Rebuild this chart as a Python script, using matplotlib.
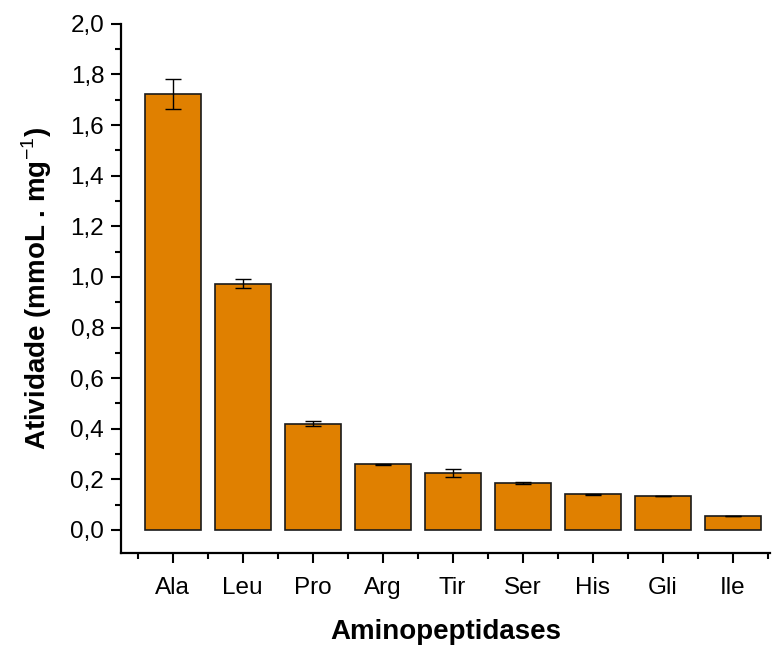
import matplotlib.pyplot as plt
from matplotlib.ticker import FixedLocator, MultipleLocator, FuncFormatter

plt.rcParams['font.family'] = ['Liberation Sans', 'DejaVu Sans']
plt.rcParams['mathtext.fontset'] = 'custom'
plt.rcParams['mathtext.rm'] = 'Liberation Sans'
plt.rcParams['mathtext.bf'] = 'Liberation Sans:bold'

# data
categories = ["Ala", "Leu", "Pro", "Arg", "Tir", "Ser", "His", "Gli", "Ile"]
activity = [1.722, 0.973, 0.420, 0.259, 0.226, 0.185, 0.141, 0.134, 0.056]
errors = [0.060, 0.018, 0.010, 0.002, 0.016, 0.004, 0.002, 0.001, 0.001]

BAR_COLOR = "#E08000"

fig = plt.figure(figsize=(7.75, 6.45), dpi=100)
ax = fig.add_axes([0.156, 0.1426, 0.838, 0.8204])

x = list(range(len(categories)))
ax.bar(x, activity, width=0.8, color=BAR_COLOR, edgecolor="#1a1a1a", linewidth=1.2,
       yerr=errors, capsize=5.5, error_kw=dict(ecolor="black", elinewidth=1.0, capthick=1.0),
       zorder=2)

ax.set_xlim(-0.74, 8.54)
ax.set_ylim(-0.091, 2.0)

for s in ["top", "right"]:
    ax.spines[s].set_visible(False)
for s in ["left", "bottom"]:
    ax.spines[s].set_linewidth(1.6)

ax.set_xticks(x)
ax.set_xticklabels(categories)
ax.xaxis.set_minor_locator(FixedLocator([i - 0.5 for i in range(len(categories) + 1)]))
ax.yaxis.set_major_locator(MultipleLocator(0.2))
ax.yaxis.set_minor_locator(MultipleLocator(0.1))
ax.yaxis.set_major_formatter(FuncFormatter(lambda v, p: f"{v:.1f}".replace(".", ",")))

ax.tick_params(which="major", direction="out", length=7, width=1.5, labelsize=17.5)
ax.tick_params(which="minor", direction="out", length=4, width=1.5)
ax.tick_params(axis="x", which="major", pad=10)
ax.tick_params(axis="y", which="major", pad=5)

ax.set_xlabel("Aminopeptidases", fontsize=20, fontweight="bold", labelpad=15)
ax.set_ylabel("Atividade (mmoL . mg$^{\\mathrm{-1}}$)", fontsize=20, fontweight="bold", labelpad=12)

fig.savefig("out.png", dpi=100)
